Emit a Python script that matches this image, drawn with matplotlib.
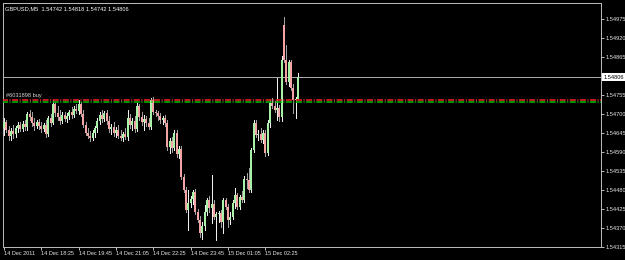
import matplotlib
matplotlib.use("Agg")
import matplotlib.pyplot as plt
import numpy as np
import pandas as pd

symbol = "GBPUSD,M5"
bar_start = "2011-12-14 17:05"

opens = [1.54659, 1.54677, 1.54654, 1.54636, 1.54651, 1.54642, 1.54659, 1.54668, 1.54657, 1.54671,
         1.54662, 1.54700, 1.54691, 1.54674, 1.54665, 1.54677, 1.54665, 1.54657, 1.54668, 1.54642,
         1.54688, 1.54674, 1.54729, 1.54703, 1.54691, 1.54680, 1.54697, 1.54685, 1.54694, 1.54706,
         1.54697, 1.54714, 1.54708, 1.54729, 1.54700, 1.54668, 1.54645, 1.54636, 1.54631, 1.54645,
         1.54659, 1.54680, 1.54697, 1.54685, 1.54703, 1.54680, 1.54657, 1.54662, 1.54645, 1.54654,
         1.54636, 1.54631, 1.54642, 1.54633, 1.54688, 1.54668, 1.54680, 1.54657, 1.54723, 1.54691,
         1.54677, 1.54685, 1.54674, 1.54662, 1.54740, 1.54706, 1.54703, 1.54694, 1.54683, 1.54688,
         1.54674, 1.54605, 1.54622, 1.54602, 1.54645, 1.54584, 1.54599, 1.54518, 1.54480, 1.54423,
         1.54443, 1.54454, 1.54475, 1.54417, 1.54394, 1.54356, 1.54377, 1.54417, 1.54452, 1.54428,
         1.54440, 1.54402, 1.54411, 1.54414, 1.54388, 1.54452, 1.54431, 1.54394, 1.54402, 1.54443,
         1.54466, 1.54431, 1.54460, 1.54452, 1.54512, 1.54509, 1.54480, 1.54596, 1.54674, 1.54639,
         1.54642, 1.54625, 1.54645, 1.54587, 1.54674, 1.54732, 1.54723, 1.54711, 1.54717, 1.54691,
         1.54957, 1.54856, 1.54792, 1.54850, 1.54775, 1.54740, 1.54742]
highs = [1.54688, 1.54683, 1.54665, 1.54659, 1.54668, 1.54665, 1.54677, 1.54677, 1.54680, 1.54683,
         1.54706, 1.54711, 1.54706, 1.54688, 1.54683, 1.54685, 1.54677, 1.54674, 1.54683, 1.54694,
         1.54700, 1.54740, 1.54734, 1.54723, 1.54711, 1.54706, 1.54706, 1.54703, 1.54711, 1.54720,
         1.54723, 1.54729, 1.54740, 1.54734, 1.54711, 1.54677, 1.54659, 1.54651, 1.54654, 1.54665,
         1.54688, 1.54706, 1.54711, 1.54708, 1.54711, 1.54694, 1.54671, 1.54677, 1.54662, 1.54668,
         1.54654, 1.54648, 1.54659, 1.54711, 1.54700, 1.54688, 1.54694, 1.54732, 1.54729, 1.54706,
         1.54697, 1.54694, 1.54688, 1.54746, 1.54749, 1.54711, 1.54708, 1.54703, 1.54694, 1.54697,
         1.54683, 1.54631, 1.54633, 1.54654, 1.54654, 1.54607, 1.54607, 1.54527, 1.54489, 1.54480,
         1.54463, 1.54480, 1.54483, 1.54426, 1.54405, 1.54388, 1.54437, 1.54457, 1.54463, 1.54524,
         1.54452, 1.54417, 1.54420, 1.54423, 1.54457, 1.54457, 1.54440, 1.54417, 1.54452, 1.54486,
         1.54472, 1.54466, 1.54478, 1.54521, 1.54530, 1.54544, 1.54602, 1.54683, 1.54683, 1.54654,
         1.54659, 1.54654, 1.54654, 1.54683, 1.54740, 1.54746, 1.54737, 1.54804, 1.54726, 1.54867,
         1.54980, 1.54899, 1.54856, 1.54856, 1.54786, 1.54749, 1.54818]
lows = [1.54639, 1.54648, 1.54625, 1.54625, 1.54631, 1.54633, 1.54648, 1.54651, 1.54651, 1.54654,
        1.54654, 1.54683, 1.54665, 1.54654, 1.54659, 1.54657, 1.54648, 1.54651, 1.54633, 1.54636,
        1.54665, 1.54671, 1.54694, 1.54683, 1.54671, 1.54674, 1.54680, 1.54677, 1.54685, 1.54688,
        1.54691, 1.54703, 1.54700, 1.54694, 1.54662, 1.54639, 1.54631, 1.54622, 1.54625, 1.54633,
        1.54648, 1.54671, 1.54677, 1.54680, 1.54671, 1.54648, 1.54642, 1.54636, 1.54633, 1.54631,
        1.54625, 1.54622, 1.54628, 1.54625, 1.54659, 1.54654, 1.54648, 1.54651, 1.54683, 1.54668,
        1.54654, 1.54665, 1.54657, 1.54657, 1.54700, 1.54694, 1.54683, 1.54674, 1.54671, 1.54665,
        1.54596, 1.54587, 1.54590, 1.54596, 1.54576, 1.54573, 1.54512, 1.54475, 1.54417, 1.54365,
        1.54431, 1.54440, 1.54411, 1.54388, 1.54345, 1.54339, 1.54365, 1.54408, 1.54417, 1.54385,
        1.54397, 1.54336, 1.54388, 1.54374, 1.54356, 1.54426, 1.54374, 1.54382, 1.54397, 1.54428,
        1.54426, 1.54426, 1.54446, 1.54446, 1.54486, 1.54475, 1.54475, 1.54590, 1.54633, 1.54625,
        1.54619, 1.54616, 1.54579, 1.54581, 1.54662, 1.54717, 1.54706, 1.54683, 1.54680, 1.54680,
        1.54850, 1.54786, 1.54781, 1.54769, 1.54703, 1.54688, 1.54742]
closes = [1.54677, 1.54654, 1.54636, 1.54651, 1.54642, 1.54659, 1.54668, 1.54657, 1.54671, 1.54662,
          1.54700, 1.54691, 1.54674, 1.54665, 1.54677, 1.54665, 1.54657, 1.54668, 1.54642, 1.54688,
          1.54674, 1.54729, 1.54703, 1.54691, 1.54680, 1.54697, 1.54685, 1.54694, 1.54706, 1.54697,
          1.54714, 1.54708, 1.54729, 1.54700, 1.54668, 1.54645, 1.54636, 1.54631, 1.54645, 1.54659,
          1.54680, 1.54697, 1.54685, 1.54703, 1.54680, 1.54657, 1.54662, 1.54645, 1.54654, 1.54636,
          1.54631, 1.54642, 1.54633, 1.54688, 1.54668, 1.54680, 1.54657, 1.54723, 1.54691, 1.54677,
          1.54685, 1.54674, 1.54662, 1.54740, 1.54706, 1.54703, 1.54694, 1.54683, 1.54688, 1.54674,
          1.54605, 1.54622, 1.54602, 1.54645, 1.54584, 1.54599, 1.54518, 1.54480, 1.54423, 1.54443,
          1.54454, 1.54475, 1.54417, 1.54394, 1.54356, 1.54377, 1.54417, 1.54452, 1.54428, 1.54440,
          1.54402, 1.54411, 1.54414, 1.54388, 1.54452, 1.54431, 1.54394, 1.54402, 1.54443, 1.54466,
          1.54431, 1.54460, 1.54452, 1.54512, 1.54509, 1.54480, 1.54596, 1.54674, 1.54639, 1.54642,
          1.54625, 1.54645, 1.54587, 1.54674, 1.54732, 1.54723, 1.54711, 1.54717, 1.54691, 1.54856,
          1.54856, 1.54792, 1.54850, 1.54775, 1.54740, 1.54742, 1.54806]

price_ticks = [1.54315, 1.54370, 1.54425, 1.54480, 1.54535, 1.54590, 1.54645,
               1.54700, 1.54755, 1.54865, 1.54920, 1.54975]
date_tick_times = ["2011-12-14 17:05", "2011-12-14 18:25", "2011-12-14 19:45", "2011-12-14 21:05",
                   "2011-12-14 22:25", "2011-12-14 23:45", "2011-12-15 01:05", "2011-12-15 02:25"]
date_tick_labels = ["14 Dec 2011", "14 Dec 18:25", "14 Dec 19:45", "14 Dec 21:05",
                    "14 Dec 22:25", "14 Dec 23:45", "15 Dec 01:05", "15 Dec 02:25"]
order_label = "#6031898 buy"
order_level_red = 1.54740
order_level_green = 1.54735
y_range = (1.54315, 1.55020)

plt.rcParams['font.family'] = ['Liberation Sans', 'DejaVu Sans']
plt.rcParams['lines.scale_dashes'] = False

W, H = 625, 260
fig = plt.figure(figsize=(W / 100, H / 100), dpi=100, facecolor='black')
ax = fig.add_axes([3 / W, (H - 247.3) / H, (601 - 3) / W, (247.3 - 3) / H])
ax.set_facecolor('black')

o = np.array(opens); h = np.array(highs); l = np.array(lows); c = np.array(closes)
n = len(o)
x = np.arange(n)
up = c >= o

px = 0.72
ax.vlines(x[up], l[up], h[up], color='#f0f0f0', lw=px, antialiased=False, zorder=2)
ax.vlines(x[~up], l[~up], h[~up], color='#a0a0a0', lw=px, antialiased=False, zorder=2)
body = np.maximum(np.abs(c - o), 0.00003)
bottom = np.minimum(o, c)
ax.bar(x[up], body[up], bottom=bottom[up], width=0.8, color='#a8f2a8', lw=0, antialiased=False, zorder=3)
ax.bar(x[~up], body[~up], bottom=bottom[~up], width=0.8, color='#f4a4a4', lw=0, antialiased=False, zorder=3)

ax.set_xlim(-0.43, 255.9)
ax.set_ylim(*y_range)

# last price line
last = closes[-1]
ax.axhline(last, color='#a8a8a8', lw=px, zorder=1)

# order lines
for lvl, col in [(order_level_red, '#e02020'), (order_level_green, '#00b000')]:
    ln, = ax.plot([-1, 260], [lvl, lvl], color=col, lw=1.2, zorder=4,
                  linestyle=(0, (4.3, 1.1, 0.8, 1.1)))
    ln.set_dash_capstyle('butt')
ax.text(1.0, order_level_red + 0.00005, order_label, color='#d8d8d8', fontsize=4.1,
        ha='left', va='bottom', zorder=5)

# spines
for s in ax.spines.values():
    s.set_color('#b8b8b8')
    s.set_linewidth(px)

# y axis on right
ax.yaxis.tick_right()
ax.set_yticks(price_ticks)
ax.set_yticklabels([f"{v:.5f}" for v in price_ticks])
ax.tick_params(axis='y', which='both', direction='out', length=2.0, width=px,
               color='#b8b8b8', labelcolor='#e8e8e8', labelsize=4.1, pad=1.0)

# x axis dates
times = pd.date_range(bar_start, periods=n, freq='5min')
pos = times.get_indexer(pd.to_datetime(date_tick_times))
ax.set_xticks(pos)
ax.set_xticklabels(date_tick_labels, ha='left')
ax.tick_params(axis='x', which='both', direction='out', length=2.0, width=px,
               color='#b8b8b8', labelcolor='#e8e8e8', labelsize=4.0, pad=0.8)

# last price box on axis
ax.annotate(f"{last:.5f}", xy=(1.0, last), xycoords=('axes fraction', 'data'),
            xytext=(1.6, 0), textcoords='offset points', ha='left', va='center',
            fontsize=4.1, color='black',
            bbox=dict(boxstyle='square,pad=0.25', fc='white', ec='white', lw=0))

# title
title = f"{symbol}  {opens[-1]:.5f} {highs[-1]:.5f} {lows[-1]:.5f} {closes[-1]:.5f}"
ax.text(0.004, 0.985, title, transform=ax.transAxes, color='white', fontsize=4.1,
        ha='left', va='top')

fig.savefig('out.png', dpi=100, facecolor='black')
